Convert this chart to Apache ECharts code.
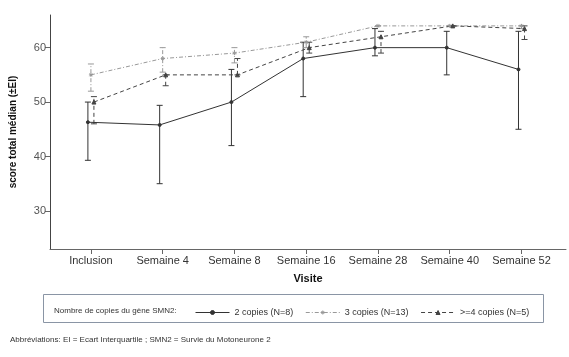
<!DOCTYPE html>
<html><head><meta charset="utf-8">
<script src="https://cdn.jsdelivr.net/npm/echarts@6/dist/echarts.min.js"></script>
<style>html,body{margin:0;padding:0;background:#fff}#c{width:569px;height:357px}</style>
</head><body><div id="c"></div>
<script>
const categories = ['Inclusion','Semaine 4','Semaine 8','Semaine 16','Semaine 28','Semaine 40','Semaine 52'];
const yTicks = [30, 40, 50, 60];
const copies2Median = [46.3, 45.8, 50, 58, 60, 60, 56];
const copies2Low    = [39.3, 35, 42, 51, 58.5, 55, 45];
const copies2High   = [50, 49.4, 56, 61, 63.5, 63, 63];
const copies3Median = [55, 58, 59, 61, 64, 64, 64];
const copies3Low    = [52, 55.5, 57.2, 60, 64, 64, 63.5];
const copies3High   = [57, 60, 60, 62, 64, 64, 64];
const copies4Median = [50, 55, 55, 60, 62, 64, 63.5];
const copies4Low    = [46, 53, 55, 59, 59, 64, 61.5];
const copies4High   = [51, 55, 58, 61, 63, 64, 64];
const seriesNames = ['2 copies (N=8)', '3 copies (N=13)', '>=4 copies (N=5)'];

const FONT = 'Liberation Sans, Arial, sans-serif';
const styles = [
  {color:'#333', type:'solid', symbol:'circle', size:3, dx:-0.042},
  {color:'#999', type:[4,2,1,2], symbol:'path://M0,5L10,5M5,0L5,10M1.5,1.5L8.5,8.5M8.5,1.5L1.5,8.5', size:4, dx:0},
  {color:'#444', type:[4,3], symbol:'triangle', size:4, dx:0.042}
];
const groups = [
  [copies2Median, copies2Low, copies2High],
  [copies3Median, copies3Low, copies3High],
  [copies4Median, copies4Low, copies4High]
];
const series = [];
groups.forEach((g, k) => {
  const st = styles[k];
  series.push({
    type:'custom', name: seriesNames[k] + '_err', silent:true, z:2,
    data: g[0].map((m, i) => [i + st.dx, g[1][i], g[2][i]]),
    renderItem: (params, api) => {
      const x = api.value(0);
      const lo = api.coord([x, api.value(1)]);
      const hi = api.coord([x, api.value(2)]);
      const w = 3;
      const style = {stroke: st.color, lineWidth: 1, lineDash: st.type === 'solid' ? null : st.type, fill: null};
      return {type:'group', children:[
        {type:'line', shape:{x1:lo[0], y1:lo[1], x2:hi[0], y2:hi[1]}, style},
        {type:'line', shape:{x1:lo[0]-w, y1:lo[1], x2:lo[0]+w, y2:lo[1]}, style:{stroke:st.color, lineWidth:1}},
        {type:'line', shape:{x1:hi[0]-w, y1:hi[1], x2:hi[0]+w, y2:hi[1]}, style:{stroke:st.color, lineWidth:1}}
      ]};
    }
  });
  series.push({
    type:'line', name: seriesNames[k], z:3,
    data: g[0].map((m, i) => [i + st.dx, m]),
    symbol: st.symbol, symbolSize: st.size, showSymbol:true,
    lineStyle:{color:st.color, width:1, type:st.type},
    itemStyle:{color:st.color, borderColor:st.color, borderWidth:1},
    emphasis:{disabled:true}
  });
});

const chart = echarts.init(document.getElementById('c'), null, {renderer:'canvas'});
chart.setOption({
  animation:false,
  backgroundColor:'#fff',
  grid:{left:48, right:3, top:15, bottom:108},
  xAxis:{
    type:'value', min:-0.57, max:6.62,
    name:'Visite', nameLocation:'middle', nameGap:24,
    nameTextStyle:{fontFamily:FONT, fontSize:11, fontWeight:'bold', color:'#111'},
    axisLine:{onZero:false, lineStyle:{color:'#666'}},
    axisTick:{customValues:[0,1,2,3,4,5,6], length:5, lineStyle:{color:'#666'}},
    axisLabel:{customValues:[0,1,2,3,4,5,6], formatter: v => categories[Math.round(v)], fontFamily:FONT, fontSize:11, color:'#333', margin:6},
    splitLine:{show:false}
  },
  yAxis:{
    type:'value', min:23, max:66,
    name:'score total médian (±EI)', nameLocation:'middle', nameGap:32, nameRotate:90,
    nameTextStyle:{fontFamily:FONT, fontSize:10, fontWeight:'bold', color:'#111'},
    axisLine:{show:true, onZero:false, lineStyle:{color:'#444'}},
    axisTick:{show:true, customValues:yTicks, length:5, lineStyle:{color:'#666'}},
    axisLabel:{customValues:yTicks, fontFamily:FONT, fontSize:11, color:'#555', margin:4},
    splitLine:{show:false}
  },
  legend:{
    data: seriesNames, left:190, top:303, itemWidth:34, itemHeight:5, itemGap:12,
    lineStyle:{width:1}, itemStyle:{borderWidth:1},
    textStyle:{fontFamily:FONT, fontSize:9, color:'#333'}, selectedMode:false
  },
  graphic:[
    {type:'rect', shape:{x:43.5, y:294.5, width:500, height:28}, style:{fill:null, stroke:'#8a95a5', lineWidth:1}},
    {type:'text', x:54, y:311, style:{text:'Nombre de copies du gène SMN2:', font:'8px ' + FONT, fill:'#333', verticalAlign:'middle'}},
    {type:'text', x:10, y:336, style:{text:'Abbréviations: EI = Ecart Interquartile ; SMN2 = Survie du Motoneurone 2', font:'8px ' + FONT, fill:'#333'}}
  ],
  series
});
</script></body></html>
